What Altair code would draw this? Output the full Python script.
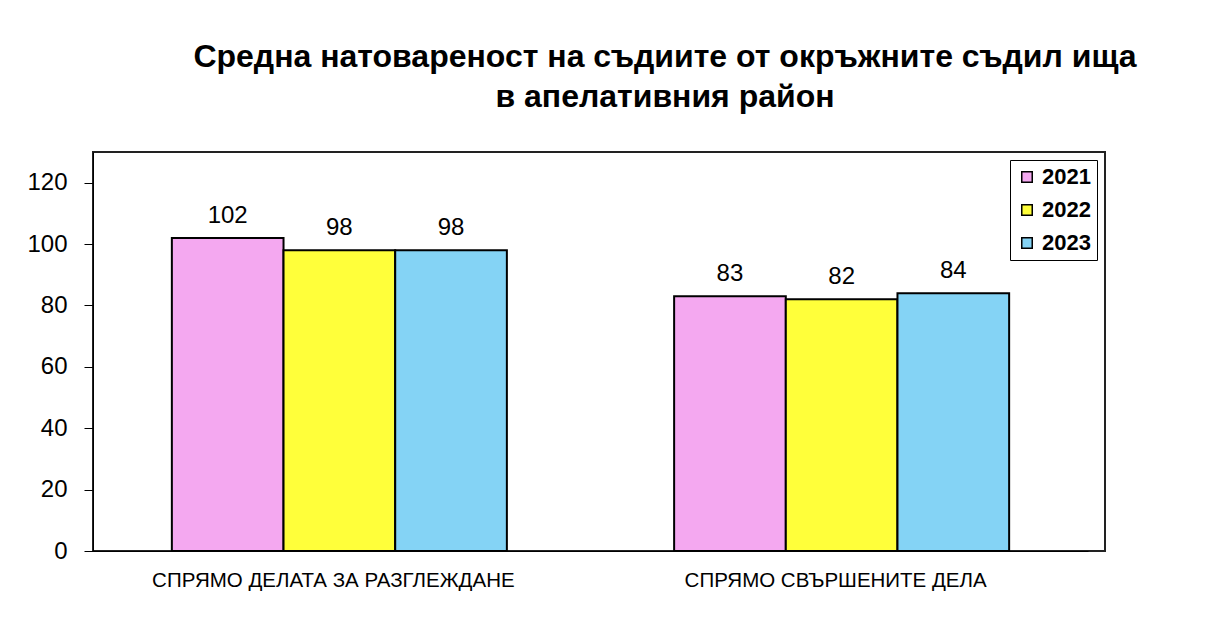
import altair as alt
import pandas as pd

categories = ["СПРЯМО ДЕЛАТА ЗА РАЗГЛЕЖДАНЕ", "СПРЯМО СВЪРШЕНИТЕ ДЕЛА"]
years = ["2021", "2022", "2023"]
values_2021 = [102, 83]
values_2022 = [98, 82]
values_2023 = [98, 84]
colors = ["#F4A8F0", "#FFFF3A", "#84D3F5"]

rows = []
for yr, vals in zip(years, [values_2021, values_2022, values_2023]):
    for cat, v in zip(categories, vals):
        rows.append({"category": cat, "year": yr, "value": v})
df = pd.DataFrame(rows)

FONT = "Liberation Sans"

base = alt.Chart(df).encode(
    x=alt.X("category:N", sort=categories, title=None,
            scale=alt.Scale(paddingInner=0.333, paddingOuter=0.157,
                            range=[0, 995]),
            axis=alt.Axis(labelAngle=0, labelFont=FONT, labelFontSize=20.5,
                          labelColor="black", ticks=False, domainColor="black",
                          labelPadding=19, labelLimit=0, labelOffset=-6)),
    xOffset=alt.XOffset("year:N", sort=years),
)

bars = base.mark_bar(stroke="black", strokeWidth=2).encode(
    y=alt.Y("value:Q", title=None,
            scale=alt.Scale(domain=[0, 130], nice=False),
            axis=alt.Axis(values=[0, 20, 40, 60, 80, 100, 120], grid=False,
                          labelFont=FONT, labelFontSize=24, labelColor="black",
                          tickColor="black", tickSize=9, domainColor="black",
                          labelPadding=17)),
    color=alt.Color("year:N", sort=years,
                    scale=alt.Scale(domain=years, range=colors),
                    legend=alt.Legend(title=None, orient="top-right",
                                      offset=8, labelFont=FONT,
                                      labelFontSize=22, labelFontWeight="bold",
                                      symbolType="square", symbolSize=110,
                                      symbolStrokeColor="black",
                                      symbolStrokeWidth=1.5,
                                      strokeColor="black", fillColor="white",
                                      padding=6, rowPadding=11,
                                      labelColor="black")),
)

labels = base.mark_text(dy=-10, font=FONT, fontSize=24, color="black",
                        baseline="bottom").encode(
    y="value:Q",
    text="value:Q",
)

chart = (bars + labels).properties(
    width=1012, height=399,
    autosize=alt.AutoSizeParams(type="none"),
    padding={"left": 85, "top": 144, "right": 90, "bottom": 60},
    view=alt.ViewBackground(stroke="#222222", strokeWidth=2, fill="white"),
    title=alt.TitleParams(
        ["Средна натовареност на съдиите от окръжните съдил ища",
         "в апелативния район"],
        font=FONT, fontSize=32, fontWeight="bold", color="black",
        anchor="middle", dx=66, offset=38, lineHeight=40),
).configure(background="white")

chart.save("out.html", embed_options={"renderer": "svg", "actions": False})
